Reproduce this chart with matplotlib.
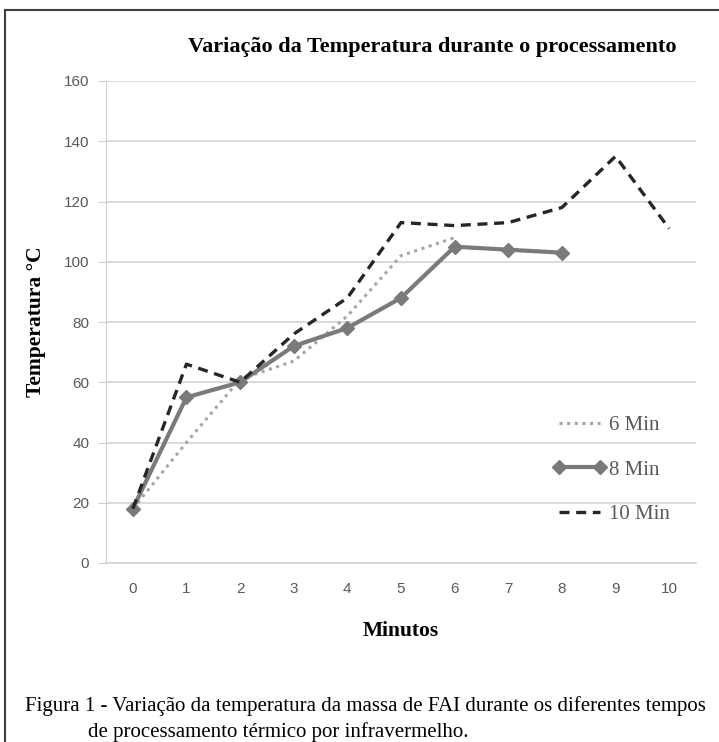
import matplotlib.pyplot as plt
from matplotlib.lines import Line2D

# Temperatura (°C) por minuto para cada tempo de processamento
min6_x = [0, 1, 2, 3, 4, 5, 6]
min6_y = [18, 40, 61, 67, 82, 102, 108]

min8_x = [0, 1, 2, 3, 4, 5, 6, 7, 8]
min8_y = [18, 55, 60, 72, 78, 88, 105, 104, 103]

min10_x = [0, 1, 2, 3, 4, 5, 6, 7, 8, 9, 10]
min10_y = [18, 66, 60, 76, 88, 113, 112, 113, 118, 135, 111]

x_ticks = list(range(0, 11))
y_ticks = list(range(0, 161, 20))

serif = 'Liberation Serif'
sans = 'Liberation Sans'

fig = plt.figure(figsize=(7.19, 7.42), dpi=100)
ax = fig.add_axes([106/719, 1 - 563/742, (696 - 106)/719, (563 - 81)/742])

ax.plot(min6_x, min6_y, linestyle=(0, (1, 1.5)), color='#a6a6a6', linewidth=2.2, label='6 Min')
ax.plot(min8_x, min8_y, linestyle='-', color='#7a7a7a', linewidth=3, marker='D',
        markersize=7, label='8 Min')
ax.plot(min10_x, min10_y, linestyle=(0, (3, 2)), color='#262626', linewidth=2.4, label='10 Min')

ax.set_xlim(-0.5, 10.5)
ax.set_ylim(0, 160)
ax.set_xticks(x_ticks)
ax.set_yticks(y_ticks)
ax.grid(axis='y', color='#d4d4d4', linewidth=1.2)
ax.set_axisbelow(True)
for s in ['top', 'right']:
    ax.spines[s].set_visible(False)
ax.spines['left'].set_color('#d0d0d0')
ax.spines['bottom'].set_color('#d4d4d4')
ax.spines['bottom'].set_linewidth(1.2)
ax.tick_params(axis='y', length=6, color='#d0d0d0', labelsize=11, labelcolor='#595959', pad=6)
ax.tick_params(axis='x', length=0, labelsize=11, labelcolor='#595959', pad=14)
for lab in ax.get_xticklabels() + ax.get_yticklabels():
    lab.set_family(sans)

ax.set_ylabel('Temperatura °C', family=serif, fontweight='bold', fontsize=15.5, labelpad=13)
ax.set_xlabel('Minutos', family=serif, fontweight='bold', fontsize=15.5, labelpad=18)

fig.text(432/719, 1 - 47/742, 'Variação da Temperatura durante o processamento',
         family=serif, fontweight='bold', fontsize=16, ha='center', va='center')

leg = ax.legend(loc='upper left', bbox_to_anchor=(0.725, 0.345), frameon=False,
                prop={'family': serif, 'size': 15}, labelspacing=1.2, numpoints=2,
                handlelength=2.6, handletextpad=0.1, labelcolor='#595959')

fig.text(25/719, 1 - 706/742,
         'Figura 1 - Variação da temperatura da massa de FAI durante os diferentes tempos',
         family=serif, fontsize=15, ha='left', va='center')
fig.text(88/719, 1 - 732/742, 'de processamento térmico por infravermelho.',
         family=serif, fontsize=15, ha='left', va='center')

# moldura da figura
fig.add_artist(Line2D([5/719, 5/719], [0, 1 - 10/742], color='#404040', linewidth=1.5))
fig.add_artist(Line2D([5/719, 1], [1 - 10/742, 1 - 10/742], color='#404040', linewidth=1.5))

fig.savefig('out.png', dpi=100)
